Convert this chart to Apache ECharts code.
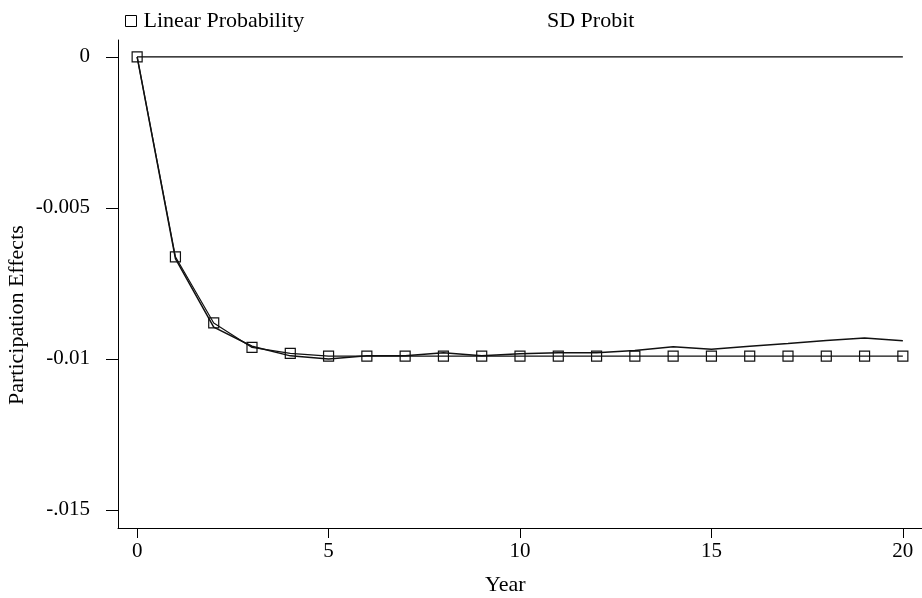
<!DOCTYPE html>
<html>
<head>
<meta charset="utf-8">
<script src="https://cdn.jsdelivr.net/npm/echarts@6/dist/echarts.min.js"></script>
<style>html,body{margin:0;padding:0;background:#fff;}#c{width:922px;height:598px;}</style>
</head>
<body>
<div id="c"></div>
<script>
const years = [0,1,2,3,4,5,6,7,8,9,10,11,12,13,14,15,16,17,18,19,20];
const linearProbability = [0,-0.00662,-0.00881,-0.00962,-0.00982,-0.00991,-0.00991,-0.00991,-0.00991,-0.00991,-0.00991,-0.00991,-0.00991,-0.00991,-0.00991,-0.00991,-0.00991,-0.00991,-0.00991,-0.00991,-0.00991];
const sdProbit = [0,-0.00668,-0.00895,-0.00958,-0.0099,-0.01,-0.0099,-0.0099,-0.0098,-0.0099,-0.00983,-0.0098,-0.0098,-0.00972,-0.0096,-0.00968,-0.00958,-0.00949,-0.00939,-0.00931,-0.0094];
const zeroReference = 0;
const xTickValues = [0,5,10,15,20];
const yTickValues = [0,-0.005,-0.01,-0.015];
const yTickLabels = ['0','-0.005','-0.01','-.015'];

const font = 'Liberation Serif';
const chart = echarts.init(document.getElementById('c'));
chart.setOption({
  animation: false,
  backgroundColor: '#fff',
  grid: {left: 118, top: 40, right: 0, bottom: 70},
  legend: [
    {
      left: 120, top: 5, itemWidth: 11, itemHeight: 11,
      textStyle: {fontFamily: font, fontSize: 22, color: '#000', padding: [0,0,0,2]},
      data: [{name: 'Linear Probability', icon: 'rect', itemStyle: {color: '#fff', borderColor: '#000', borderWidth: 1}}]
    },
    {
      left: 526, top: 5, itemWidth: 11, itemHeight: 11,
      textStyle: {fontFamily: font, fontSize: 22, color: '#000'},
      data: [{name: 'SD Probit', icon: 'rect', itemStyle: {opacity: 0}}]
    }
  ],
  xAxis: {
    type: 'value', min: -0.5, max: 20.5,
    splitLine: {show: false},
    axisLine: {show: true, onZero: false, lineStyle: {color: '#000', width: 1}},
    axisTick: {show: true, length: 10, lineStyle: {color: '#000'}, customValues: xTickValues},
    axisLabel: {color: '#000', fontFamily: font, fontSize: 21, margin: 13, customValues: xTickValues}
  },
  yAxis: {
    type: 'value', min: -0.0156, max: 0.00056,
    splitLine: {show: false},
    axisLine: {show: true, onZero: false, lineStyle: {color: '#000', width: 1}},
    axisTick: {show: true, length: 12, lineStyle: {color: '#000'}, customValues: yTickValues},
    axisLabel: {
      color: '#000', fontFamily: font, fontSize: 21, margin: 28, customValues: yTickValues,
      formatter: function (v) {
        for (let i = 0; i < yTickValues.length; i++) {
          if (Math.abs(v - yTickValues[i]) < 1e-9) return yTickLabels[i];
        }
        return '';
      }
    }
  },
  graphic: [
    {type: 'text',
     style: {text: 'Participation Effects', fontFamily: font, fontSize: 22, fill: '#000'},
     rotation: Math.PI / 2, originX: 0, originY: 0, x: 6, y: 405},
    {type: 'text', x: 485, y: 574,
     style: {text: 'Year', fontFamily: font, fontSize: 22, fill: '#000'}}
  ],
  series: [
    {
      name: 'Zero', type: 'line', silent: true, symbol: 'none',
      lineStyle: {color: '#000', width: 1.2},
      data: [[years[0], zeroReference], [years[years.length - 1], zeroReference]]
    },
    {
      name: 'SD Probit', type: 'line', symbol: 'none',
      lineStyle: {color: '#111', width: 1.5},
      itemStyle: {color: '#111'},
      data: years.map((y, i) => [y, sdProbit[i]])
    },
    {
      name: 'Linear Probability', type: 'line', symbol: 'rect', symbolSize: 10,
      lineStyle: {color: '#111', width: 1.2},
      itemStyle: {color: 'rgba(255,255,255,0)', borderColor: '#111', borderWidth: 1.2},
      data: years.map((y, i) => [y, linearProbability[i]])
    }
  ]
});
</script>
</body>
</html>
